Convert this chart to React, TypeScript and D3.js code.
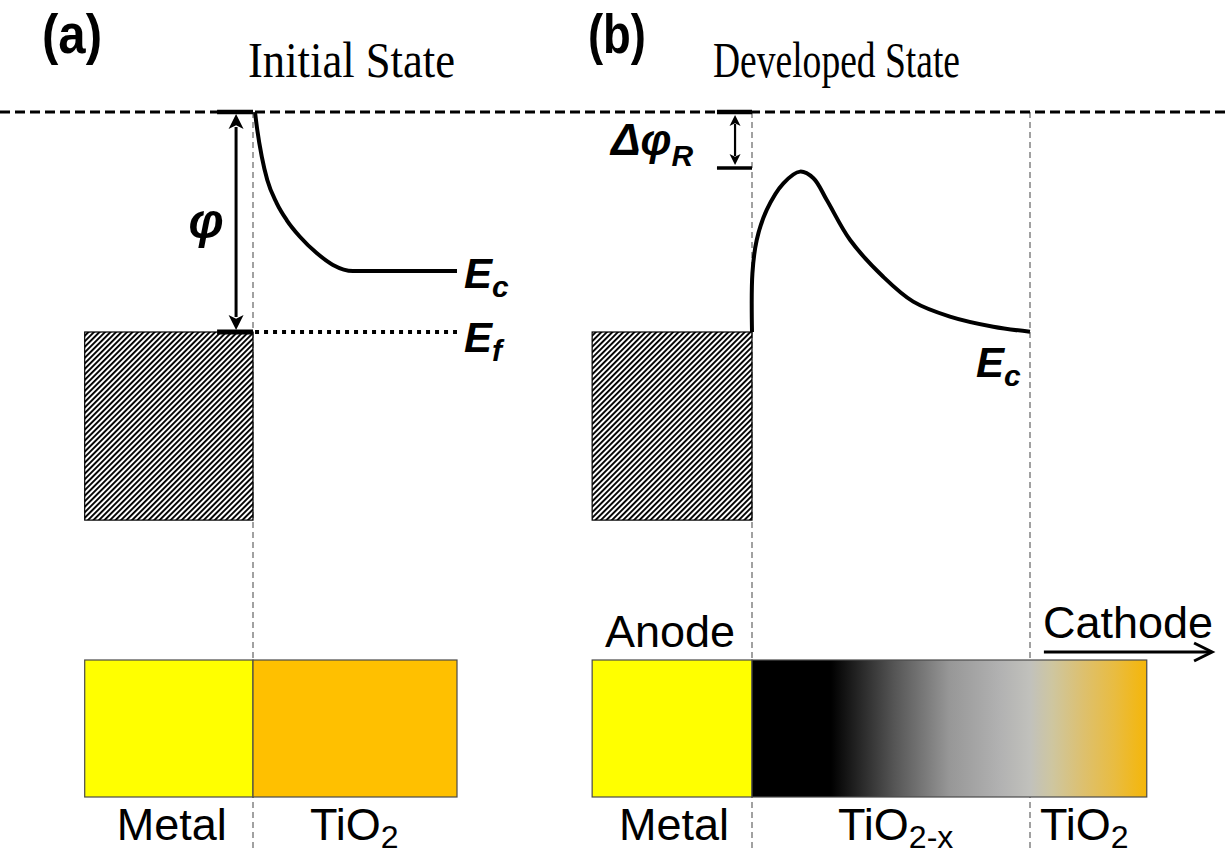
import React from 'react';
import * as d3 from 'd3';

// ---------------- data (normalized energy: 0 = vacuum level, 1 = metal Fermi level) ----------------
const vacuumLevel = 0;
const fermiLevel = 1;
const metalDepth = 1.855;
const deltaPhiRLevel = 0.2545;

// position units: 0 = metal/oxide interface, 100 = end of (reduced) oxide region
const metalStartA = -82.5;
const oxideEndA = 100;
const metalStartB = -57.5;
const reducedEndB = 100;
const oxideEndB = 142;
const cathodeArrowStart = 105;
const cathodeArrowEnd = 165.5;

// Panel (a): conduction band edge, initial state
const curveAPos = [0.98, 2.1, 4.3, 7.0, 11.6, 16.5, 23.0, 31.2, 39.2, 49.0, 100];
const curveAEnergy = [0, 0.082, 0.203, 0.309, 0.414, 0.491, 0.567, 0.641, 0.695, 0.723, 0.723];

// Panel (b): conduction band edge, developed state
const curveBPos = [0, 0.15, 1.7, 5.3, 11.3, 17.3, 22.1, 26.9, 35.3, 47.2, 58.0, 71.2, 86.8, 100];
const curveBEnergy = [1, 0.733, 0.582, 0.445, 0.324, 0.271, 0.301, 0.4, 0.582, 0.749, 0.862, 0.93, 0.976, 0.999];

// Layer labels
const layersA = [
  { main: 'Metal', sub: '', from: metalStartA, to: 0 },
  { main: 'TiO', sub: '2', from: 0, to: oxideEndA },
];
const layersB = [
  { main: 'Metal', sub: '', from: metalStartB, to: 0 },
  { main: 'TiO', sub: '2-x', from: 0, to: reducedEndB },
  { main: 'TiO', sub: '2', from: reducedEndB, to: oxideEndB },
];
const panelTitles = ['Initial State', 'Developed State'];
const panelTags = ['(a)', '(b)'];

// ---------------- styles ----------------
const SANS = '"Liberation Sans", Arial, sans-serif';
const SERIF = '"Liberation Serif", "Times New Roman", serif';
const metalColor = '#FFFF00';
const oxideColor = '#FFC000';
const gradStops: [number, string][] = [
  [0, '#000000'],
  [0.2, '#000000'],
  [0.36, '#555555'],
  [0.5, '#979797'],
  [0.63, '#b2b2b2'],
  [0.705, '#c1c1bc'],
  [0.76, '#cec6a0'],
  [0.84, '#ddc06e'],
  [0.92, '#e9bc40'],
  [1, '#f5b608'],
];

const W = 1230;
const H = 858;
const barTop = 660;
const barBottom = 797;
const labelBaseline = 840;

const yE = d3.scaleLinear().domain([vacuumLevel, fermiLevel]).range([112, 332]);
const xA = d3.scaleLinear().domain([0, 100]).range([253, 457]);
const xB = d3.scaleLinear().domain([0, 100]).range([752, 1030]);

function DoubleArrow({ x, y1, y2, hw, hl, sw }: { x: number; y1: number; y2: number; hw: number; hl: number; sw: number }) {
  return (
    <g>
      <line x1={x} x2={x} y1={y1 + hl - 2} y2={y2 - hl + 2} stroke="#000" strokeWidth={sw} />
      <path d={`M${x},${y1} L${x + hw / 2},${y1 + hl} L${x},${y1 + hl * 0.75} L${x - hw / 2},${y1 + hl} Z`} fill="#000" />
      <path d={`M${x},${y2} L${x + hw / 2},${y2 - hl} L${x},${y2 - hl * 0.75} L${x - hw / 2},${y2 - hl} Z`} fill="#000" />
    </g>
  );
}

function SubLabel({ x, y, main, sub, size, subSize, dy, anchor, italic, bold }: any) {
  return (
    <text x={x} y={y} fontFamily={SANS} fontSize={size} fontStyle={italic ? 'italic' : 'normal'} fontWeight={bold ? 'bold' : 'normal'} textAnchor={anchor || 'start'} fill="#000">
      {main}
      {sub ? <tspan fontSize={subSize} dy={dy}>{sub}</tspan> : null}
    </text>
  );
}

export default function App() {
  const lineA = d3
    .line<number>()
    .x((_, i) => xA(curveAPos[i]))
    .y((d) => yE(d))
    .curve(d3.curveMonotoneX)(curveAEnergy) as string;
  const lineB = d3
    .line<number>()
    .x((_, i) => xB(curveBPos[i]))
    .y((d) => yE(d))
    .curve(d3.curveCatmullRom.alpha(0.5))(curveBEnergy) as string;

  const grayDash = { stroke: '#8a8a8a', strokeWidth: 1.6, strokeDasharray: '6,4' };

  return (
    <svg width={W} height={H} viewBox={`0 0 ${W} ${H}`} style={{ position: 'absolute', left: 0, top: 0, background: '#fff' }}>
      <defs>
        <pattern id="hatch" patternUnits="userSpaceOnUse" width="3.9" height="10" patternTransform="rotate(45)">
          <rect x="0" y="0" width="1.9" height="10" fill="#000" />
        </pattern>
        <linearGradient id="tiox" x1="0" x2="1" y1="0" y2="0">
          {gradStops.map(([o, c], i) => (
            <stop key={i} offset={o} stopColor={c} />
          ))}
        </linearGradient>
      </defs>
      <rect x={0} y={0} width={W} height={H} fill="#fff" />

      {/* tags and titles */}
      <text x={42} y={53} fontFamily={SANS} fontWeight="bold" fontSize={56} textLength={60} lengthAdjust="spacingAndGlyphs">{panelTags[0]}</text>
      <text x={588} y={53} fontFamily={SANS} fontWeight="bold" fontSize={56} textLength={58} lengthAdjust="spacingAndGlyphs">{panelTags[1]}</text>
      <text x={248} y={77} fontFamily={SERIF} fontSize={50} textLength={207} lengthAdjust="spacingAndGlyphs">{panelTitles[0]}</text>
      <text x={713} y={77} fontFamily={SERIF} fontSize={50} textLength={247} lengthAdjust="spacingAndGlyphs">{panelTitles[1]}</text>

      {/* vertical gray dashed interface lines */}
      <line x1={xA(0)} x2={xA(0)} y1={yE(vacuumLevel)} y2={850} {...grayDash} />
      <line x1={xB(0)} x2={xB(0)} y1={yE(vacuumLevel)} y2={850} {...grayDash} />
      <line x1={xB(reducedEndB)} x2={xB(reducedEndB)} y1={yE(vacuumLevel)} y2={850} {...grayDash} />

      {/* vacuum level */}
      <line x1={0} x2={W} y1={yE(vacuumLevel)} y2={yE(vacuumLevel)} stroke="#000" strokeWidth={3} strokeDasharray="10,5" />

      {/* ---------- panel (a) ---------- */}
      <rect x={xA(metalStartA)} y={yE(fermiLevel)} width={xA(0) - xA(metalStartA)} height={yE(metalDepth) - yE(fermiLevel)} fill="url(#hatch)" stroke="#000" strokeWidth={1.2} />
      <line x1={xA(-17.6)} x2={xA(0)} y1={yE(vacuumLevel)} y2={yE(vacuumLevel)} stroke="#000" strokeWidth={4.5} />
      <line x1={xA(-17.6)} x2={xA(0)} y1={yE(fermiLevel)} y2={yE(fermiLevel)} stroke="#000" strokeWidth={5} />
      <DoubleArrow x={xA(-8.3)} y1={yE(vacuumLevel) + 2} y2={yE(fermiLevel) - 2} hw={15} hl={15} sw={3} />
      <line x1={xA(1)} x2={xA(100)} y1={yE(fermiLevel)} y2={yE(fermiLevel)} stroke="#000" strokeWidth={4} strokeDasharray="4,5" />
      <path d={lineA} fill="none" stroke="#000" strokeWidth={4} />
      <text x={xA(-23)} y={238} fontFamily={SANS} fontWeight="bold" fontStyle="italic" fontSize={50} textAnchor="middle">φ</text>
      <SubLabel x={464} y={288} main="E" sub="c" size={42} subSize={30} dy={9} italic bold />
      <SubLabel x={464} y={352} main="E" sub="f" size={42} subSize={30} dy={9} italic bold />

      {/* ---------- panel (b) ---------- */}
      <rect x={xB(metalStartB)} y={yE(fermiLevel)} width={xB(0) - xB(metalStartB)} height={yE(metalDepth) - yE(fermiLevel)} fill="url(#hatch)" stroke="#000" strokeWidth={1.2} />
      <line x1={xB(-12.6)} x2={xB(0)} y1={yE(vacuumLevel)} y2={yE(vacuumLevel)} stroke="#000" strokeWidth={4.5} />
      <line x1={xB(-12.6)} x2={xB(0)} y1={yE(deltaPhiRLevel)} y2={yE(deltaPhiRLevel)} stroke="#000" strokeWidth={3.5} />
      <DoubleArrow x={xB(-6.1)} y1={yE(vacuumLevel) + 3} y2={yE(deltaPhiRLevel) - 3} hw={11} hl={11} sw={2.2} />
      <path d={lineB} fill="none" stroke="#000" strokeWidth={4} strokeLinejoin="round" />
      <text x={611} y={155} fontFamily={SANS} fontWeight="bold" fontStyle="italic" fontSize={44}>
        Δφ<tspan fontSize={30} dy={11}>R</tspan>
      </text>
      <SubLabel x={976} y={377} main="E" sub="c" size={42} subSize={30} dy={9} italic bold />

      {/* ---------- bars (a) ---------- */}
      {layersA.map((l, i) => (
        <rect key={`ra${i}`} x={xA(l.from)} y={barTop} width={xA(l.to) - xA(l.from)} height={barBottom - barTop} fill={i === 0 ? metalColor : oxideColor} stroke="#4a4a4a" strokeWidth={1.2} />
      ))}
      {layersA.map((l, i) => (
        <SubLabel key={`la${i}`} x={i === 0 ? (xA(l.from) + xA(l.to)) / 2 + 3 : xA(l.from) + 57} y={labelBaseline} main={l.main} sub={l.sub} size={45} subSize={32} dy={8} anchor={i === 0 ? 'middle' : 'start'} />
      ))}

      {/* ---------- bars (b) ---------- */}
      <rect x={xB(layersB[0].from)} y={barTop} width={xB(layersB[0].to) - xB(layersB[0].from)} height={barBottom - barTop} fill={metalColor} stroke="#4a4a4a" strokeWidth={1.2} />
      <rect x={xB(layersB[1].from)} y={barTop} width={xB(layersB[2].to) - xB(layersB[1].from)} height={barBottom - barTop} fill="url(#tiox)" stroke="#4a4a4a" strokeWidth={1.2} />
      <SubLabel x={(xB(layersB[0].from) + xB(layersB[0].to)) / 2 + 2} y={labelBaseline} main={layersB[0].main} size={45} anchor="middle" />
      <SubLabel x={838} y={labelBaseline} main={layersB[1].main} sub={layersB[1].sub} size={45} subSize={32} dy={8} />
      <SubLabel x={xB(reducedEndB) + 10} y={labelBaseline} main={layersB[2].main} sub={layersB[2].sub} size={45} subSize={32} dy={8} />

      <text x={605} y={647} fontFamily={SANS} fontSize={45}>Anode</text>
      <text x={1043} y={638} fontFamily={SANS} fontSize={45}>Cathode</text>
      <line x1={xB(cathodeArrowStart)} x2={xB(cathodeArrowEnd) - 2} y1={652} y2={652} stroke="#000" strokeWidth={3} />
      <polyline points={`${xB(cathodeArrowEnd) - 18},643 ${xB(cathodeArrowEnd)},652 ${xB(cathodeArrowEnd) - 18},661`} fill="none" stroke="#000" strokeWidth={3} />
    </svg>
  );
}
